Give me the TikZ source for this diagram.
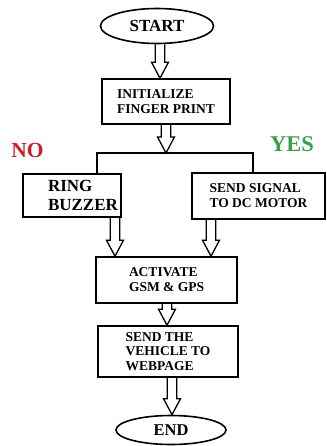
\documentclass[tikz,border=0pt]{standalone}
\usepackage{fontspec}
\setmainfont{Liberation Serif}
\usetikzlibrary{shapes.geometric,calc}

\definecolor{noRed}{RGB}{200,32,42}
\definecolor{yesGreen}{RGB}{58,158,74}

\tikzset{
  box/.style={draw, line width=1.6pt, rectangle, align=left, inner sep=2pt},
  term/.style={draw, line width=1.6pt, ellipse, inner sep=0pt},
  flowline/.style={line width=1.4pt},
  arrowline/.style={line width=1.3pt, line join=miter}
}

% hollow double arrow: x position, from, to
\newcommand\hollowarrow[3]{%
  \draw[arrowline] let \p1=(#2), \p2=(#3) in
    (#1pt-4.75pt,\y1) -- (#1pt-4.75pt,\y2+16pt) -- (#1pt-8.5pt,\y2+16pt)
    -- (#1pt,\y2) -- (#1pt+8.5pt,\y2+16pt) -- (#1pt+4.75pt,\y2+16pt)
    -- (#1pt+4.75pt,\y1);}

\begin{document}
\begin{tikzpicture}[x=1pt, y=-1pt, every node/.style={font=\bfseries}]
  \useasboundingbox (0,0) rectangle (326,446);

  % terminals
  \node[term, minimum width=113pt, minimum height=35pt,
        font=\fontsize{17}{19}\selectfont\bfseries] (start) at (157,26) {START};
  \node[term, minimum width=110pt, minimum height=29pt,
        font=\fontsize{16.5}{19}\selectfont\bfseries] (stop) at (171,430) {END};

  % process boxes
  \node[box, minimum width=128pt, minimum height=45pt,
        font=\fontsize{13.5}{14.5}\selectfont\bfseries] (init) at (166,101.5)
        {INITIALIZE\\FINGER PRINT};
  \node[box, minimum width=98pt, minimum height=43pt,
        font=\fontsize{17}{19}\selectfont\bfseries] (ring) at (72,195.5)
        {\hspace*{22pt}RING\\\hspace*{22pt}BUZZER};
  \node[box, minimum width=133pt, minimum height=46pt,
        font=\fontsize{13.5}{15}\selectfont\bfseries] (sig) at (258.5,196)
        {SEND SIGNAL\\TO DC MOTOR};
  \node[box, minimum width=141pt, minimum height=46pt,
        font=\fontsize{13.5}{15}\selectfont\bfseries] (act) at (166.5,280)
        {ACTIVATE\\GSM \& GPS};
  \node[box, minimum width=140pt, minimum height=51pt,
        font=\fontsize{13.5}{14.5}\selectfont\bfseries] (veh) at (168,351.5)
        {SEND THE\\VEHICLE TO\\WEBPAGE};

  % branch labels
  \node[text=noRed, font=\fontsize{21.5}{24}\selectfont\bfseries] (no) at (27.5,150) {NO};
  \node[text=yesGreen, font=\fontsize{22.5}{24}\selectfont\bfseries] (yes) at (292,144.5) {YES};

  % split
  \coordinate (split) at (166,153);
  \draw[flowline] ($(ring.north)+(25,0)$) |- (split) -| ($(sig.north)+(-5.5,0)$);

  % arrows
  \hollowarrow{160}{start.south}{init.north}
  \hollowarrow{166}{init.south}{split}
  \hollowarrow{115}{ring.south}{act.north}
  \hollowarrow{211}{sig.south}{act.north}
  \hollowarrow{167}{act.south}{veh.north}
  \hollowarrow{172}{veh.south}{stop.north}
\end{tikzpicture}
\end{document}
